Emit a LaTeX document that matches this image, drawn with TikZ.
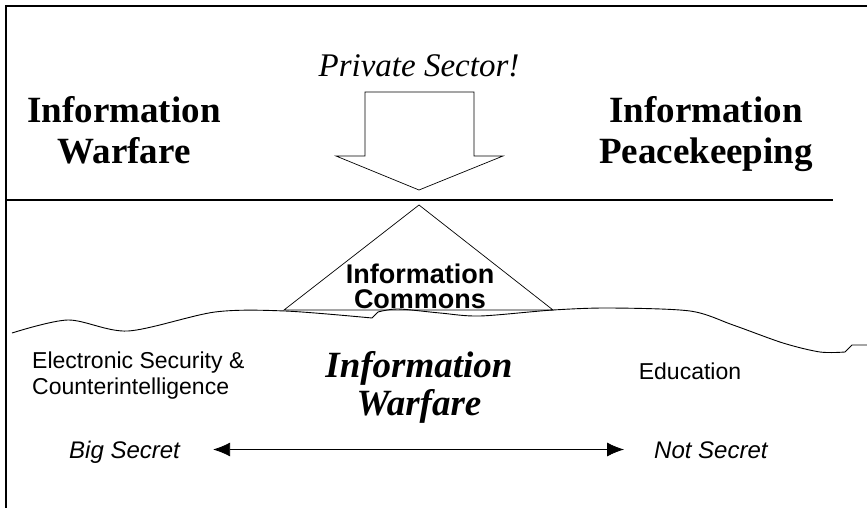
\documentclass[tikz,border=0pt]{standalone}
\usepackage{fontspec}
\setmainfont{Liberation Serif}
\newfontfamily\arialfont{Liberation Sans}
\usetikzlibrary{arrows.meta}

\tikzset{
  headline/.style={font=\fontsize{37}{40}\selectfont\bfseries},
  plainlabel/.style={font=\arialfont\fontsize{23}{25.5}\selectfont},
  secret/.style={font=\arialfont\itshape\fontsize{24}{26}\selectfont,
    text height=17pt, text depth=0pt},
}

\begin{document}
\begin{tikzpicture}[x=1pt,y=-1pt]
  \useasboundingbox (0,0) rectangle (867,508);

  % frame and divider
  \draw[line width=1.2pt] (6,508) -- (6,6) -- (867,6);
  \draw[line width=1.2pt] (6,200) -- (833,200);

  % big arrow and triangle
  \draw[line width=0.7pt] (365,92) -- (474,92) -- (474,156) -- (503,156)
    -- (419,190) -- (336,156) -- (365,156) -- cycle;
  \draw[line width=0.7pt] (419,205) -- (553,310) -- (284,310) -- cycle;

  % ground line
  \draw[line width=0.9pt]
    plot[smooth, tension=0.5] coordinates {(12,333) (68,320) (128,331)
      (215,312) (285,311) (372,318)}
    -- plot[smooth, tension=0.5] coordinates {(378,312) (398,309) (440,313)
      (480,316) (553,310) (610,308) (690,311) (733,325) (783,343) (820,352)
      (845,352)}
    -- (852,345) -- (867,345);

  % base anchor of a two-line node sits on its last line
  \begin{scope}[every node/.style={inner sep=0pt, anchor=base, align=center}]
    \node[font=\fontsize{33}{36}\selectfont\itshape] (private) at (419,77) {Private Sector!};
    \node[headline] (iwar) at (124,163) {Information\\Warfare};
    \node[headline] (ipeace) at (706,163) {Information\\Peacekeeping};
    \node[font=\arialfont\bfseries\fontsize{27}{25}\selectfont] (commons) at (420,308) {Information\\Commons};
    \node[plainlabel, anchor=base west, align=left] (esec) at (32,394) {Electronic Security \&\\Counterintelligence};
    \node[font=\fontsize{37}{38}\selectfont\bfseries\itshape] (iwarfare) at (419,415) {Information\\Warfare};
    \node[plainlabel] (edu) at (690,379) {Education};
  \end{scope}

  \begin{scope}[every node/.style={secret, inner sep=0pt}]
    \node[anchor=base west] (bigsec) at (69,458) {Big Secret};
    \node[anchor=base west] (notsec) at (654,458) {Not Secret};
  \end{scope}

  \draw[line width=0.8pt, {Latex[length=17pt,width=14pt]}-{Latex[length=17pt,width=14pt]},
    shorten <=33pt, shorten >=30pt] (bigsec) -- (notsec);

\end{tikzpicture}
\end{document}
